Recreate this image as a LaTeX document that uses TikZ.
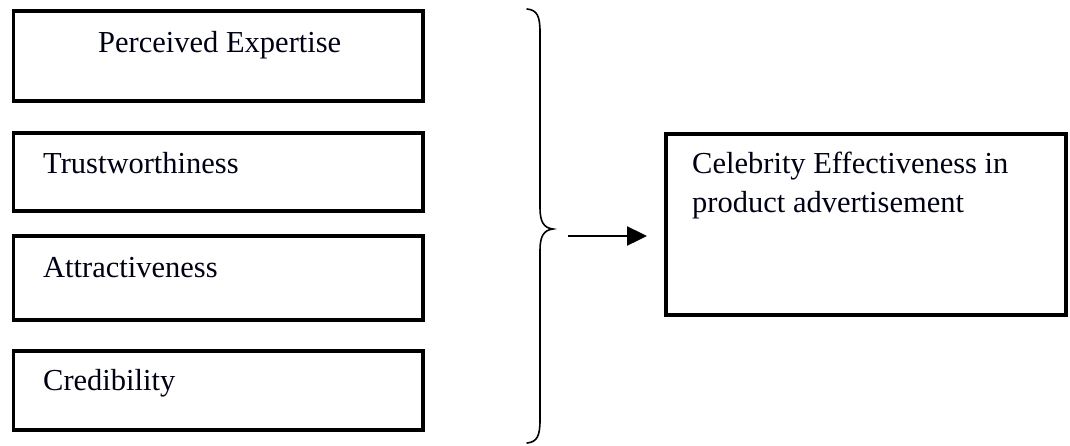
\documentclass[tikz,border=0pt]{standalone}
\usepackage{fontspec}
\setmainfont{Liberation Serif}
\usetikzlibrary{arrows.meta}
\begin{document}
\begin{tikzpicture}[x=1pt,y=-1pt,
  box/.style={draw=black,line width=3.5pt,inner sep=0pt,rectangle},
  lbl/.style={anchor=base west,inner sep=0pt,font=\fontsize{30.5}{39}\selectfont,text=black!92!blue},
  bracestyle/.style={line width=1.6pt,line cap=round},
  arr/.style={line width=2.4pt,-{Triangle[length=20pt,width=19pt]}}]
\useasboundingbox (0,0) rectangle (1070,445);
\fill[white] (0,0) rectangle (1070,445);
% left boxes
\node[box,minimum width=409.5pt,minimum height=90pt] (b1) at (218.25,56) {};
\node[box,minimum width=409.5pt,minimum height=78pt] (b2) at (218.25,172) {};
\node[box,minimum width=409.5pt,minimum height=84pt] (b3) at (218.25,278) {};
\node[box,minimum width=409.5pt,minimum height=79pt] (b4) at (218.25,390.5) {};
% right box
\node[box,line width=4pt,minimum width=400.5pt,minimum height=181.5pt] (rb) at (865.75,224.25) {};
% texts
\node[lbl] (t1) at (98,52) {Perceived Expertise};
\node[lbl] (t2) at (43,173) {Trustworthiness};
\node[lbl] (t3) at (43,277) {Attractiveness};
\node[lbl] (t4) at (43,390) {Credibility};
\node[lbl] (t5) at (692,173) {Celebrity Effectiveness in};
\node[lbl] (t6) at (692,212) {product advertisement};
% brace
\coordinate (btop) at (527,9);
\coordinate (btip) at (553,229);
\coordinate (bbot) at (527,443);
\draw[bracestyle] (btop) .. controls (537,10) and (540,16) .. (540,32)
  -- (540,208) .. controls (540,222) and (544,228) .. (btip)
  .. controls (544,230) and (540,236) .. (540,250)
  -- (540,420) .. controls (540,436) and (537,442) .. (bbot);
% arrow
\coordinate (a1) at (568,236);
\coordinate (a2) at (647,236);
\draw[arr] (a1) -- (a2);
\end{tikzpicture}
\end{document}
